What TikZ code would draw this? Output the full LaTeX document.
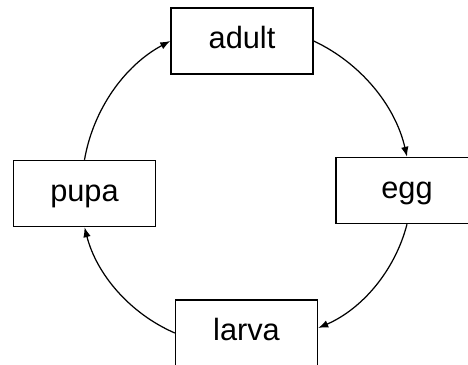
\documentclass[tikz,border=0pt]{standalone}
\usepackage{fontspec}
\setmainfont{Liberation Sans}
\usetikzlibrary{arrows.meta}
\tikzset{stagebox/.style={draw, line width=0.8pt, minimum width=2.84cm, minimum height=1.32cm, inner sep=0pt, text height=12.5pt, text depth=3.7pt, font=\fontsize{17.5}{20}\selectfont},
	cycarrow/.style={-{Latex[length=2mm,width=1.5mm]}, line width=0.7pt, bend left=26, looseness=0.9}}
\begin{document}
\begin{tikzpicture}
\useasboundingbox (0,0) rectangle (9.36,7.28);
\node (adult) [stagebox] at (4.84,6.46) {adult};
\node (egg) [stagebox] at (8.14,3.47) {egg};
\node (larva) [stagebox] at (4.93,0.62) {larva};
\node (pupa) [stagebox] at (1.69,3.41) {pupa};
\draw [cycarrow] (pupa.north) to (adult.west);
\draw [cycarrow] (adult.east) to (egg.north);
\draw [cycarrow] (egg.south) to ([yshift=0.1cm]larva.east);
\draw [cycarrow] (larva.west) to (pupa.south);
\end{tikzpicture}
\end{document}
